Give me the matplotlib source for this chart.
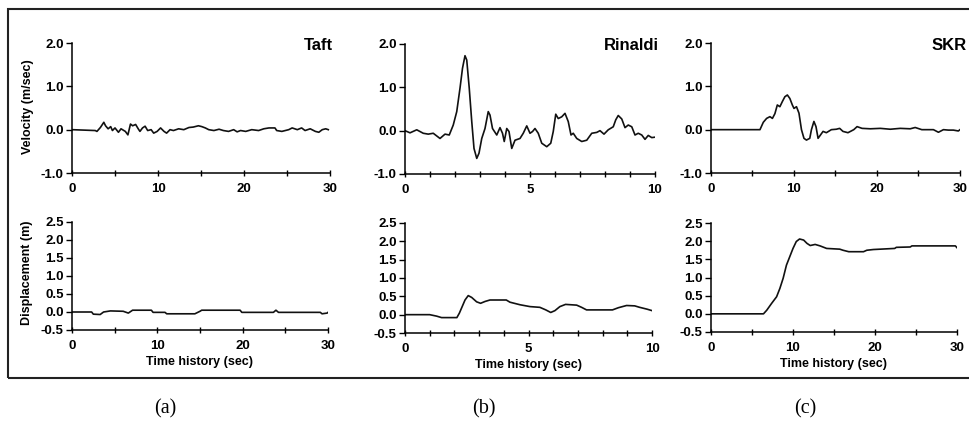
import matplotlib
matplotlib.use('Agg')
import matplotlib.pyplot as plt
from matplotlib.patches import Rectangle
from matplotlib.ticker import MultipleLocator, FormatStrFormatter

plt.rcParams['font.family'] = ['Liberation Sans', 'DejaVu Sans']
plt.rcParams['font.weight'] = 'bold'

# Taft record
taft_t = [0, 2.7, 2.9, 3.3, 3.7, 3.9, 4.2, 4.5, 4.7, 5.0, 5.4, 5.7, 6.2, 6.5, 6.8, 7.05, 7.4, 7.7,
          7.9, 8.2, 8.5, 8.8, 9.2, 9.5, 9.9, 10.3, 10.7, 11.0, 11.4, 11.8, 12.4, 13.0, 13.6, 14.1,
          14.7, 15.1, 15.5, 15.9, 16.5, 17.1, 17.6, 18.2, 18.8, 19.2, 19.6, 20.2, 20.9, 21.7, 22.3,
          22.9, 23.6, 23.8, 24.4, 25.2, 25.6, 26.2, 26.7, 27.1, 27.7, 28.3, 28.7, 29.1, 29.5, 29.8]
taft_vel = [0, -0.02, -0.04, 0.05, 0.17, 0.09, 0.02, 0.07, -0.02, 0.04, -0.06, 0.02, -0.04, -0.12,
            0.13, 0.09, 0.12, 0.02, -0.04, 0.04, 0.08, -0.02, 0, -0.08, -0.04, 0.04, -0.04, -0.08,
            0, -0.02, 0.02, 0, 0.05, 0.06, 0.09, 0.07, 0.04, 0, -0.02, 0.01, -0.02, -0.04, 0,
            -0.05, -0.02, -0.04, 0, -0.02, 0.02, 0.04, 0.04, -0.02, -0.04, 0, 0.04, 0, 0.04,
            -0.02, 0.02, -0.04, -0.06, 0, 0.02, 0]
taft_dt = [0, 2.3, 2.5, 3.3, 3.7, 4.5, 6.0, 6.6, 7.1, 9.3, 9.5, 10.9, 11.1, 14.4, 15.0, 15.2, 19.7,
           19.9, 23.6, 23.9, 24.2, 29.1, 29.3, 29.9, 30]
taft_disp = [0, 0, -0.06, -0.07, 0, 0.03, 0.02, -0.03, 0.05, 0.05, -0.01, -0.01, -0.05, -0.05,
             0.02, 0.05, 0.05, -0.01, -0.01, 0.05, -0.01, -0.01, -0.05, -0.03, -0.01]

# Rinaldi record
rin_t = [0, 0.2, 0.47, 0.73, 0.93, 1.13, 1.4, 1.6, 1.77, 1.93, 2.07, 2.2, 2.3, 2.4, 2.47, 2.57,
         2.67, 2.76, 2.87, 2.96, 3.07, 3.2, 3.33, 3.4, 3.5, 3.67, 3.8, 3.9, 3.97, 4.07, 4.16,
         4.27, 4.4, 4.6, 4.73, 4.87, 5.0, 5.1, 5.2, 5.33, 5.47, 5.67, 5.83, 5.93, 6.03, 6.13,
         6.27, 6.4, 6.53, 6.64, 6.73, 6.87, 7.07, 7.27, 7.47, 7.67, 7.8, 7.96, 8.13, 8.33, 8.43,
         8.53, 8.67, 8.8, 8.93, 9.07, 9.2, 9.33, 9.47, 9.6, 9.73, 9.87, 10.0]
rin_vel = [0, -0.05, 0.02, -0.06, -0.08, -0.06, -0.18, -0.08, -0.1, 0.13, 0.44, 0.98, 1.44, 1.73,
           1.63, 0.98, 0.21, -0.41, -0.64, -0.52, -0.18, 0.05, 0.44, 0.36, 0.05, -0.1, 0.07,
           -0.06, -0.25, 0.05, -0.02, -0.41, -0.22, -0.18, -0.06, 0.11, -0.06, -0.02, 0.05,
           -0.06, -0.29, -0.37, -0.29, -0.02, 0.38, 0.28, 0.32, 0.4, 0.21, -0.1, -0.06, -0.18,
           -0.25, -0.22, -0.06, -0.04, 0, -0.08, 0.02, 0.09, 0.25, 0.35, 0.27, 0.07, 0.13, 0.09,
           -0.1, -0.06, -0.1, -0.2, -0.11, -0.16, -0.15]
rin_dt = [0, 0.6, 1.0, 1.28, 1.48, 2.1, 2.2, 2.43, 2.56, 2.7, 2.9, 3.06, 3.24, 3.44, 4.1, 4.25,
          4.66, 5.06, 5.46, 5.7, 5.9, 6.07, 6.27, 6.5, 6.95, 7.15, 7.35, 8.4, 8.64, 8.97, 9.3,
          9.5, 9.8, 10.0]
rin_disp = [0, 0, 0, -0.04, -0.08, -0.08, 0.04, 0.4, 0.52, 0.47, 0.35, 0.31, 0.36, 0.4, 0.4,
            0.34, 0.27, 0.22, 0.2, 0.13, 0.06, 0.11, 0.22, 0.28, 0.26, 0.2, 0.13, 0.13, 0.19,
            0.25, 0.24, 0.2, 0.15, 0.11]

# SKR record
skr_t = [0, 5.9, 6.3, 6.7, 7.1, 7.4, 7.7, 7.99, 8.3, 8.6, 8.9, 9.2, 9.5, 9.8, 10.0, 10.3, 10.6,
         10.9, 11.2, 11.5, 11.9, 12.1, 12.4, 12.65, 12.9, 13.2, 13.5, 13.9, 14.5, 15.1, 15.5,
         15.9, 16.5, 17.2, 17.6, 18.2, 19.2, 20.4, 21.6, 22.8, 24.0, 24.6, 25.4, 26.8, 27.4,
         28.0, 28.6, 29.2, 29.8, 30.0]
skr_vel = [0, 0, 0.17, 0.26, 0.3, 0.26, 0.37, 0.57, 0.53, 0.65, 0.76, 0.8, 0.72, 0.57, 0.49,
           0.53, 0.38, 0.0, -0.2, -0.24, -0.2, 0, 0.19, 0.07, -0.2, -0.12, -0.04, -0.07, 0,
           0.01, 0.03, -0.04, -0.07, 0, 0.07, 0.03, 0.02, 0.03, 0.01, 0.03, 0.02, 0.05, 0, 0,
           -0.06, 0, -0.01, -0.01, -0.03, 0]
skr_dt = [0, 6.4, 6.8, 7.4, 8.0, 8.4, 8.8, 9.2, 9.6, 10.0, 10.4, 10.8, 11.3, 11.7, 12.1, 12.7,
          13.3, 14.1, 15.7, 16.1, 16.8, 18.6, 19.0, 19.8, 22.4, 22.6, 24.3, 24.5, 29.8, 30.0]
skr_disp = [0, 0, 0.1, 0.29, 0.47, 0.7, 0.98, 1.34, 1.57, 1.8, 1.99, 2.06, 2.03, 1.94, 1.88,
            1.91, 1.87, 1.8, 1.78, 1.75, 1.71, 1.71, 1.75, 1.77, 1.8, 1.83, 1.84, 1.87, 1.87,
            1.82]

names = ['Taft', 'Rinaldi', 'SKR']
durations = [30, 10, 30]
vel_t = [taft_t, rin_t, skr_t]
vel = [taft_vel, rin_vel, skr_vel]
disp_t = [taft_dt, rin_dt, skr_dt]
disp = [taft_disp, rin_disp, skr_disp]
panel_tags = ['(a)', '(b)', '(c)']

W, H = 970, 422
fig = plt.figure(figsize=(W / 100, H / 100), dpi=100)

def px_axes(x0, y0, x1, y1):
    return fig.add_axes([x0 / W, 1 - y1 / H, (x1 - x0) / W, (y1 - y0) / H])

top_boxes = [(72, 43, 330, 173), (405, 44, 655, 174), (711, 43, 960, 173)]
bot_boxes = [(72, 222, 328, 330), (405, 223, 652, 333), (711, 223, 957, 332)]
name_x = [333, 659, 932]
name_ha = ['right', 'right', 'left']
tag_x = [165, 484, 805]

def style(ax, tmax):
    for s in ['top', 'right']:
        ax.spines[s].set_visible(False)
    for s in ['left', 'bottom']:
        ax.spines[s].set_linewidth(1.1)
    ax.set_xlim(0, tmax)
    step = 1 if tmax == 10 else 5
    ax.xaxis.set_major_locator(MultipleLocator(2 * step if tmax == 30 else 5))
    ax.xaxis.set_minor_locator(MultipleLocator(step))
    ax.tick_params(axis='x', which='both', direction='inout', length=4, width=1.0,
                   labelsize=9.5, pad=5)
    ax.tick_params(axis='y', direction='out', length=4, width=1.0, labelsize=9.5, pad=2)
    ax.yaxis.set_major_formatter(FormatStrFormatter('%.1f'))
    ax.patch.set_visible(False)

for i in range(3):
    ax = px_axes(*top_boxes[i])
    ax.plot(vel_t[i], vel[i], color='#111111', lw=1.2)
    ax.set_ylim(-1.0, 2.0)
    ax.set_yticks([-1.0, 0.0, 1.0, 2.0])
    style(ax, durations[i])
    fig.text(name_x[i] / W, 1 - 45 / H, names[i], ha=name_ha[i], va='center',
             fontsize=12, fontweight='bold')

    ax2 = px_axes(*bot_boxes[i])
    ax2.plot(disp_t[i], disp[i], color='#111111', lw=1.2)
    ax2.set_ylim(-0.5, 2.5)
    ax2.set_yticks([-0.5, 0.0, 0.5, 1.0, 1.5, 2.0, 2.5])
    style(ax2, durations[i])
    ax2.set_xlabel('Time history (sec)', fontsize=9, fontweight='bold', labelpad=3)

    fig.text(tag_x[i] / W, 1 - 409 / H, panel_tags[i], ha='center', va='center',
             fontsize=14.5, family='Liberation Serif', fontweight='normal')

fig.text(28 / W, 1 - 107 / H, 'Velocity (m/sec)', rotation=90, ha='center', va='center',
         fontsize=9, fontweight='bold')
fig.text(27 / W, 1 - 273 / H, 'Displacement (m)', rotation=90, ha='center', va='center',
         fontsize=9, fontweight='bold')

# outer frame around the three records
fig.patches.append(Rectangle((8 / W, 1 - 378 / H), 1.2, 369 / H, transform=fig.transFigure,
                             fill=False, edgecolor='#222222', lw=1.5))

plt.savefig('out.png', dpi=100)
